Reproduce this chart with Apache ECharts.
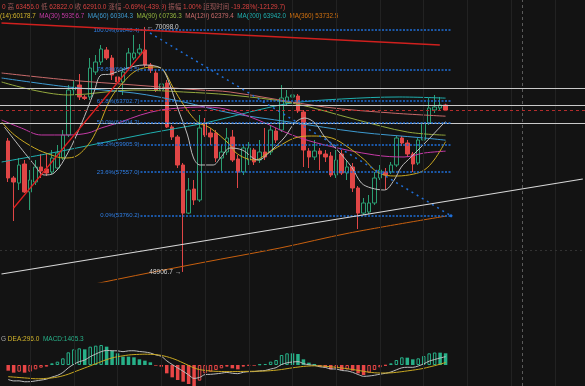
<!DOCTYPE html>
<html><head><meta charset="utf-8">
<script src="https://cdn.jsdelivr.net/npm/echarts@6/dist/echarts.min.js"></script>
<style>html,body{margin:0;padding:0;background:#131313;}#c{width:585px;height:386px;}</style>
</head><body><div id="c"></div>
<script>
// ---- DATA ----
// candles: [open, close, low, high]
const candles = [
[60234,57033,56687,60493],[57033,56687,53313,57206],[56600,58157,55995,58763],[58244,55822,55735,58590],
[55822,56860,54265,57725],[56687,57985,56427,58590],[57985,57639,57033,59109],[57812,57466,57206,59196],
[57552,58763,57379,59455],[57898,59196,57725,59888],[58763,60752,58590,61185],[60752,64645,60580,65077],
[64645,64904,64212,65510],[65077,64039,63780,66029],[64039,63910,63780,64212],[64039,66548,63780,67413],
[66202,67067,65943,67672],[67067,68192,66807,68538],[68105,67413,67240,68365],[67413,65943,65510,67672],
[65770,65337,64818,66202],[65337,66202,64213,66548],[66548,67845,66375,68278],[67413,67845,67240,69403],
[67845,68192,67672,68624],[68105,66807,66634,70098],[66807,66375,66115,66980],[66115,64645,64472,66375],
[64645,65164,64212,65510],[65250,61445,61358,65510],[61445,60580,60320,61618],[60580,58157,57898,60752],
[58157,53995,48906.7,58330],[53995,55995,53919,57033],[56082,55130,54698,56860],[55130,61358,54957,62483],
[61790,60752,60580,62223],[60925,60580,59888,61358],[60925,58763,58417,61185],[58763,59282,57639,59888],
[59282,60493,59023,61358],[60580,58590,58417,61185],[58677,57552,56168,59023],[57552,59628,57293,59888],
[58590,59628,58157,60147],[59455,58417,58157,59628],[58590,59282,58330,60320],[59282,58850,58590,61358],
[59282,61185,59023,61618],[61099,60320,60060,61358],[61185,63953,61012,65077],[63520,64039,63347,64645],
[64039,64212,63866,64991],[64126,62832,62656,64299],[62742,59455,57985,62915],[59369,58850,57898,59628],
[58850,59369,58590,60320],[59369,59109,57725,59628],[59109,58850,58417,59455],[58936,57292,57119,59282],
[57292,58590,57033,59455],[59109,57466,57292,59455],[57466,57985,56860,58590],[57985,56168,55822,58330],
[56168,53995,52620,56341],[53995,54871,53833,55303],[54092,54871,53919,55563],[54871,57033,54698,57552],
[57033,57725,56860,58157],[57552,57292,55995,57898],[57552,58157,57379,58417],[58157,60493,57985,60666],
[60493,60060,59801,60666],[60060,59109,58850,60320],[59109,58244,57552,59282],[58330,60320,58157,60493],
[60320,61790,60147,62050],[61790,63088,61618,63953],[62915,63174,62656,64212],[63088,63350,62915,64039],
[63350,62910,62822,63456]
];
// moving averages: [candle index (0-based), price]
const maShort = [[-0.7,61445],[4.8,58158],[6.6,57293],[8.4,57466],[11,59282],[13.3,61618],[15.7,64472],[17,65943],[18.8,66029],[21.9,66548],[24.8,66808],[27.9,66548],[29.1,65683],[31,63088],[32.8,60753],[33.9,58763],[35.1,58158],[37.5,58158],[38.8,58763],[40.6,59628],[42.8,59455],[45.7,58590],[48.2,59455],[50.6,60580],[52.4,61791],[54.2,62223],[56.1,61791],[57.9,60580],[60.2,59455],[62.8,57985],[64.6,56601],[66.4,56168],[68.8,55995],[70.6,56860],[71.9,57985],[73.7,58850],[75.5,59715],[77.3,60580],[79.7,61791],[80,61900]];
const ma14 = [[-1.2,61877],[1.15,60753],[4.8,59628],[7.9,59023],[10.2,58763],[12.05,58850],[14.6,59888],[16.4,61358],[18.8,63953],[21.1,65337],[23,66202],[24.8,66548],[27.3,66635],[28.4,66375],[30.2,64818],[32.1,63348],[34.6,61877],[36.96,61358],[40.6,59888],[41.5,59282],[43.3,58763],[45.1,58590],[47.5,59196],[49.3,59715],[52.4,60493],[55.5,60666],[59.2,60493],[62.1,59715],[65.2,58590],[67,57725],[68.8,57293],[71.1,57206],[74.2,57379],[76.1,57725],[77.9,58590],[80,60178.7]];
const ma30 = [[-1.2,62050],[2.4,61358],[6.05,60753],[11,60753],[14.6,60926],[17,61358],[20.6,61877],[24.2,62483],[27.9,62915],[31.5,63088],[35.1,63175],[39.7,63000],[45.7,62050],[51.9,60753],[57.9,59888],[67,59023],[72.4,58850],[76.1,59196],[80,59356.7]];
const ma60 = [[-1.2,65683],[11,64905],[23,64386],[32.1,63607],[40.6,62656],[51.5,61877],[63.9,61012],[76.1,60493],[80,60304.3]];
const ma90 = [[-1.2,65337],[11,64213],[23,64645],[32.1,64472],[40.6,64213],[51.9,63521],[63.9,62050],[73,61012],[80,60736.3]];
const ma120 = [[-1.2,66116],[11,65510],[23,65078],[35.1,64645],[40.6,64472],[57.9,63175],[70.1,62656],[80,62379.4]];
const ma200 = [[-1.2,58417],[7.9,59196],[17,60061],[26.05,60926],[35.1,61704],[40.6,62310],[45.7,62915],[51.9,63521],[61,63867],[71.5,64040],[80,63942]];
const ma360 = [[-1.2,45900],[6.05,46826],[19.3,48210],[35.1,49680],[49.7,50978],[62.4,52276],[80,53732.5]];
// MACD
const macdHist = [-680,-920,-800,-920,-800,-520,-320,-200,200,400,800,1520,1880,2000,1880,2200,2320,2400,2200,1720,1400,1000,1000,920,680,520,320,-80,-200,-1000,-1480,-1800,-2000,-2280,-2520,-1880,-1000,-800,-600,-400,-200,-400,-520,-200,-80,-80,80,120,400,600,1200,1400,1400,1320,680,280,120,-200,-280,-520,-400,-600,-520,-680,-1000,-1200,-920,-600,-280,-80,200,600,920,880,680,800,1080,1400,1500,1480,1405.3];
const dea = [-1400,-1450,-1500,-1550,-1600,-1650,-1650,-1600,-1550,-1450,-1300,-1100,-850,-600,-350,-100,150,400,650,850,1000,1100,1200,1250,1280,1300,1280,1250,1150,1000,800,550,250,-50,-350,-550,-650,-720,-760,-780,-790,-790,-780,-770,-760,-750,-740,-720,-680,-620,-540,-440,-340,-250,-170,-120,-100,-110,-150,-210,-280,-360,-450,-540,-640,-760,-860,-930,-960,-960,-940,-880,-800,-710,-620,-520,-400,-240,-80,100,296];
const dif = [-1740,-1910,-1900,-2010,-2000,-1910,-1810,-1700,-1450,-1250,-900,-340,90,400,590,1000,1310,1600,1750,1710,1700,1600,1700,1710,1620,1560,1440,1210,1050,500,60,-350,-750,-1190,-1610,-1490,-1150,-1120,-1060,-980,-890,-990,-1040,-870,-800,-790,-700,-660,-480,-320,60,260,360,410,170,20,-40,-210,-290,-470,-480,-660,-710,-880,-1140,-1360,-1320,-1230,-1100,-1000,-840,-580,-340,-270,-280,-120,140,460,660,840,999];
// annotations
const fibLevels = [['100.0%',69848.4],['78.6%',66405.5],['61.8%',63702.7],['50.0%',61804.3],['38.2%',59905.9],['23.6%',57557.0],['0.0%',53760.2]];
const hLines = [64818,63304,61790];
const lastPrice = 62910;
const redTop = [[0.27,70441],[80.45,68538]];
const redRise = [[2.5,54438],[26.45,68105]];
const whiteRise = [[0.27,48729],[106.6,56946]];
const fibDiag = [[26.5,69848.4],[82.5,53760.2]];
const hiLo = [[26.5,70098,'← 70098.0'],[33.5,48906.7,'48906.7 →']];
const header1 = [['v','0'],['l','高'],['v','63456.0'],['l','低'],['v','62822.0'],['l','收'],['v','62910.0'],['l','涨幅'],['v','-0.69%(-439.9)'],['l','振幅'],['v','1.00%'],['l','距现时间'],['v','-19.28%(-12129.7)']];
const header2 = [['a','(14):60178.7'],['b','MA(30) 59356.7'],['c','MA(60) 60304.3'],['d','MA(90) 60736.3'],['e','MA(120) 62379.4'],['f','MA(200) 63942.0'],['g','MA(360) 53732.5']];
const header2Colors = {a:'#d4b62c', b:'#c53aa6', c:'#3d9ad0', d:'#93b43e', e:'#c86a6a', f:'#1fb0b0', g:'#d07010'};

// ---- CHART ----
const N = 107;
const cats = Array.from({length:N},(_,i)=>String(i));
const FONT = '"Liberation Sans","Noto Sans CJK SC",sans-serif';
const chart = echarts.init(document.getElementById('c'));
const toV = arr => arr.map(([i,p]) => [i+1.5,p]);
const candleData = cats.map((_,i)=> (i>=1 && i<=candles.length) ? candles[i-1] : '-');
const macdData = cats.map((_,i)=>{
  if(i<1||i>macdHist.length) return '-';
  const v = macdHist[i-1], pv = i>1 ? macdHist[i-2] : v;
  const col = v>=0 ? '#27b088' : '#e84646';
  return {value:v, itemStyle: v>pv ? {color:'rgba(0,0,0,0)', borderColor:col, borderWidth:1} : {color:col}};
});
const pad = a => cats.map((_,i)=> (i>=1 && i<=a.length) ? a[i-1] : '-');
const maLine = (d,color) => ({type:'line', xAxisIndex:1, yAxisIndex:0, data:toV(d), smooth:0.35, showSymbol:false, silent:true, z:4, lineStyle:{width:1,color}});
const segLine = (d,color,width,type) => ({type:'line', xAxisIndex:1, yAxisIndex:0, data:d, showSymbol:false, silent:true, z:5, lineStyle:{width,color,type:type||'solid'}});

const rs = (fill,size) => ({fill, fontSize:size, fontFamily:FONT});
const graphics = [
  {type:'text', left:2, top:4, style:{text: header1.map(([k,t])=>'{'+k+'|'+t+'}').join(' '),
     rich:{v:rs('#d8413f',6.5), l:rs('#a05a5a',6.5)}, fontSize:6.5, fontFamily:FONT}},
  {type:'text', left:0, top:13.5, style:{text: header2.map(([k,t])=>'{'+k+'|'+t+'}').join('  '),
     rich:Object.fromEntries(Object.entries(header2Colors).map(([k,c])=>[k,rs(c,6.3)])), fontSize:6.3, fontFamily:FONT}},
  {type:'text', left:1, top:336, style:{text:'{g|G} {d|DEA:296.0}  {m|MACD:1405.3}',
     rich:{g:rs('#aaaaaa',6.5), d:rs('#d4b62c',6.5), m:rs('#27b088',6.5)}, fontSize:6.5, fontFamily:FONT}}
];

const vGrid = [];
for (let k=5;k<N;k+=8) vGrid.push({xAxis:String(k)});

chart.setOption({
  backgroundColor:'#131313',
  animation:false,
  grid:[
    {left:-1.5, top:20, width:5.5*N, height:262},
    {left:-1.5, top:340, width:5.5*N, height:46},
    {left:-1.5, top:0, width:5.5*N, height:386}
  ],
  xAxis:[
    {type:'category', gridIndex:0, data:cats, show:false},
    {type:'value', gridIndex:0, min:0, max:N, show:false},
    {type:'category', gridIndex:1, data:cats, show:false},
    {type:'category', gridIndex:2, data:cats, show:false}
  ],
  yAxis:[
    {type:'value', gridIndex:0, min:48037, max:70700, show:false},
    {type:'value', gridIndex:1, min:-2520, max:3000, show:false},
    {type:'value', gridIndex:2, min:0, max:1, show:false}
  ],
  graphic: graphics,
  series:[
    {type:'line', xAxisIndex:3, yAxisIndex:2, data:[], silent:true, z:0,
     markLine:{symbol:'none', silent:true, label:{show:false},
       data: vGrid.map(d=>({...d, lineStyle:{color:'#222222', width:1, type:'solid'}}))
         .concat([{xAxis:'95', lineStyle:{color:'#5a5a5a', width:1, type:[3,3]}}])}},
    {type:'line', xAxisIndex:1, yAxisIndex:0, data:[], silent:true, z:1,
     markLine:{symbol:'none', silent:true, label:{show:false}, data:[
       ...hLines.map(v=>({yAxis:v, lineStyle:{color:'#c9c9c9', width:1, type:'solid'}})),
       {yAxis:lastPrice, lineStyle:{color:'#b32c2c', width:1, type:[3,3]}},
       {yAxis:50805, lineStyle:{color:'#333333', width:1, type:[2,3]}}
     ]}},
    {type:'candlestick', xAxisIndex:0, yAxisIndex:0, data:candleData, barWidth:4, z:3,
     itemStyle:{color:'rgba(0,0,0,0)', color0:'#e04646', borderColor:'#2a9d72', borderColor0:'#e04646', borderWidth:1}},
    maLine(ma200,'#1fb0b0'),
    maLine(ma120,'#c86a6a'),
    maLine(ma90,'#93a83e'),
    maLine(ma60,'#3d9ad0'),
    maLine(ma30,'#c53aa6'),
    maLine(ma14,'#c9a821'),
    maLine(maShort,'#bdbdbd'),
    maLine(ma360,'#c8600f'),
    segLine(redTop,'#d0201e',1.5),
    segLine(redRise,'#e02020',1.2),
    segLine(whiteRise,'#d8d8d8',1.2),
    {type:'line', xAxisIndex:1, yAxisIndex:0, data:[], silent:true, z:6,
     markLine:{symbol:['none','circle'], symbolSize:3, silent:true, data:[
       ...fibLevels.map(([p,v])=>[
         {coord:[25.7,v], label:{show:true, position:'start', distance:1, formatter:p+'('+v.toFixed(1)+')', color:'#2f7fe6', fontSize:6, fontFamily:FONT}},
         {coord:[82.5,v], symbol:'none'}]),
       [{coord:fibDiag[0], lineStyle:{type:[2,4], width:1.5}, label:{show:false}},{coord:fibDiag[1]}]
     ], lineStyle:{color:'#1f6fd8', width:1.5, type:[2,1.5]}},
     markPoint:{symbol:'circle', symbolSize:0, silent:true, data: hiLo.map(([v,p,t],j)=>({coord:[v,p], label:{show:true, position: j===0?'right':'left', distance:2, formatter:t, color:'#cfcfcf', fontSize:6.5, fontFamily:FONT}}))}},
    {type:'bar', xAxisIndex:2, yAxisIndex:1, data:macdData, barWidth:3.5, silent:true},
    {type:'line', xAxisIndex:2, yAxisIndex:1, data:pad(dif), showSymbol:false, silent:true, smooth:0.3, lineStyle:{width:1,color:'#bdbdbd'}},
    {type:'line', xAxisIndex:2, yAxisIndex:1, data:pad(dea), showSymbol:false, silent:true, smooth:0.3, lineStyle:{width:1,color:'#c9a821'}}
  ]
});
</script></body></html>
